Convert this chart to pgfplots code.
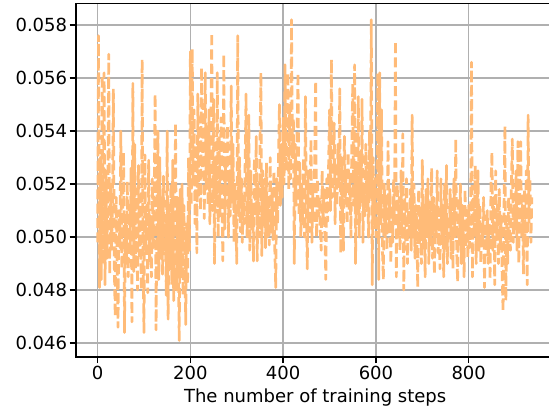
\documentclass[border=0pt]{standalone}
\usepackage{fontspec}
\setmainfont{DejaVu Sans}
\usepackage{pgfplots}
\pgfplotsset{compat=1.18}
\definecolor{lineorange}{HTML}{FFBB78}
\definecolor{gridgray}{HTML}{B0B0B0}

\begin{document}
\begin{tikzpicture}
\begin{axis}[
  scale only axis,
  width=265.7pt, height=196.1pt,
  xmin=-46.9, xmax=984.9,
  ymin=0.04548, ymax=0.05881,
  xtick={0,200,400,600,800},
  ytick={0.046,0.048,0.050,0.052,0.054,0.056,0.058},
  scaled y ticks=false,
  yticklabel style={/pgf/number format/fixed, /pgf/number format/fixed zerofill, /pgf/number format/precision=3, xshift=2.2pt},
  xticklabel style={yshift=1.7pt},
  /pgf/number format/assume math mode=true,
  tick align=outside, tick pos=left,
  major tick length=3.5pt,
  every tick/.style={black, line width=0.8pt},
  axis line style={black, line width=0.8pt},
  grid=major,
  major grid style={gridgray, line width=0.8pt},
  xlabel={The number of training steps},
  xlabel style={yshift=2.3pt},
]
% loss per training step (every 2nd step)
\addplot[lineorange, line width=1.5pt, line join=round, dash pattern=on 5.55pt off 2.4pt] coordinates {
(0,0.0498) (2,0.0576) (4,0.0481) (6,0.0530) (8,0.0484) (10,0.0561) (12,0.0490) (14,0.0562) (16,0.0482) (18,0.0525)
(20,0.0492) (22,0.0518) (24,0.0569) (26,0.0486) (28,0.0520) (30,0.0495) (32,0.0512) (34,0.0556) (36,0.0489) (38,0.0470)
(40,0.0515) (42,0.0492) (44,0.0466) (46,0.0510) (48,0.0496) (50,0.0540) (52,0.0488) (54,0.0505) (56,0.0532) (58,0.0464)
(60,0.0508) (62,0.0490) (64,0.0521) (66,0.0485) (68,0.0512) (70,0.0494) (72,0.0526) (74,0.0468) (76,0.0558) (78,0.0487)
(80,0.0535) (82,0.0488) (84,0.0518) (86,0.0480) (88,0.0527) (90,0.0493) (92,0.0515) (94,0.0480) (96,0.0567) (98,0.0490)
(100,0.0464) (102,0.0531) (104,0.0495) (106,0.0512) (108,0.0479) (110,0.0529) (112,0.0490) (114,0.0508) (116,0.0485) (118,0.0522)
(120,0.0496) (122,0.0517) (124,0.0554) (126,0.0465) (128,0.0510) (130,0.0540) (132,0.0484) (134,0.0530) (136,0.0492) (138,0.0515)
(140,0.0486) (142,0.0523) (144,0.0494) (146,0.0508) (148,0.0478) (150,0.0540) (152,0.0469) (154,0.0512) (156,0.0488) (158,0.0520)
(160,0.0482) (162,0.0529) (164,0.0476) (166,0.0505) (168,0.0543) (170,0.0480) (172,0.0515) (174,0.0490) (176,0.0461) (178,0.0518)
(180,0.0485) (182,0.0520) (184,0.0478) (186,0.0512) (188,0.0490) (190,0.0467) (192,0.0505) (194,0.0482) (196,0.0530) (198,0.0495)
(200,0.0570) (202,0.0512) (204,0.0571) (206,0.0520) (208,0.0548) (210,0.0505) (212,0.0535) (214,0.0494) (216,0.0554) (218,0.0515)
(220,0.0545) (222,0.0510) (224,0.0564) (226,0.0523) (228,0.0550) (230,0.0507) (232,0.0562) (234,0.0518) (236,0.0540) (238,0.0512)
(240,0.0548) (242,0.0505) (244,0.0536) (246,0.0577) (248,0.0510) (250,0.0552) (252,0.0490) (254,0.0530) (256,0.0512) (258,0.0562)
(260,0.0500) (262,0.0538) (264,0.0508) (266,0.0545) (268,0.0515) (270,0.0491) (272,0.0569) (274,0.0503) (276,0.0530) (278,0.0512)
(280,0.0542) (282,0.0500) (284,0.0525) (286,0.0508) (288,0.0557) (290,0.0512) (292,0.0535) (294,0.0498) (296,0.0520) (298,0.0505)
(300,0.0490) (302,0.0576) (304,0.0508) (306,0.0530) (308,0.0502) (310,0.0522) (312,0.0498) (314,0.0515) (316,0.0505) (318,0.0528)
(320,0.0554) (322,0.0500) (324,0.0518) (326,0.0546) (328,0.0495) (330,0.0525) (332,0.0503) (334,0.0512) (336,0.0491) (338,0.0530)
(340,0.0508) (342,0.0538) (344,0.0491) (346,0.0520) (348,0.0500) (350,0.0535) (352,0.0562) (354,0.0493) (356,0.0525) (358,0.0505)
(360,0.0522) (362,0.0496) (364,0.0528) (366,0.0500) (368,0.0515) (370,0.0497) (372,0.0530) (374,0.0502) (376,0.0518) (378,0.0499)
(380,0.0525) (382,0.0495) (384,0.0481) (386,0.0522) (388,0.0505) (390,0.0530) (392,0.0550) (394,0.0512) (396,0.0535) (398,0.0515)
(400,0.0545) (402,0.0520) (404,0.0565) (406,0.0525) (408,0.0540) (410,0.0562) (412,0.0518) (414,0.0548) (416,0.0522) (418,0.0582)
(420,0.0530) (422,0.0545) (424,0.0490) (426,0.0535) (428,0.0512) (430,0.0540) (432,0.0562) (434,0.0508) (436,0.0528) (438,0.0500)
(440,0.0520) (442,0.0505) (444,0.0530) (446,0.0500) (448,0.0553) (450,0.0510) (452,0.0488) (454,0.0525) (456,0.0502) (458,0.0518)
(460,0.0537) (462,0.0498) (464,0.0520) (466,0.0505) (468,0.0530) (470,0.0559) (472,0.0500) (474,0.0522) (476,0.0508) (478,0.0515)
(480,0.0502) (482,0.0495) (484,0.0525) (486,0.0505) (488,0.0518) (490,0.0500) (492,0.0484) (494,0.0522) (496,0.0506) (498,0.0528)
(500,0.0548) (502,0.0510) (504,0.0567) (506,0.0515) (508,0.0530) (510,0.0543) (512,0.0505) (514,0.0528) (516,0.0512) (518,0.0535)
(520,0.0520) (522,0.0556) (524,0.0494) (526,0.0530) (528,0.0510) (530,0.0495) (532,0.0538) (534,0.0515) (536,0.0525) (538,0.0505)
(540,0.0532) (542,0.0510) (544,0.0522) (546,0.0500) (548,0.0535) (550,0.0558) (552,0.0512) (554,0.0565) (556,0.0490) (558,0.0525)
(560,0.0505) (562,0.0553) (564,0.0500) (566,0.0530) (568,0.0515) (570,0.0552) (572,0.0498) (574,0.0520) (576,0.0508) (578,0.0535)
(580,0.0510) (582,0.0528) (584,0.0500) (586,0.0540) (588,0.0515) (590,0.0582) (592,0.0482) (594,0.0530) (596,0.0505) (598,0.0522)
(600,0.0500) (602,0.0518) (604,0.0562) (606,0.0484) (608,0.0562) (610,0.0505) (612,0.0548) (614,0.0495) (616,0.0484) (618,0.0520)
(620,0.0500) (622,0.0515) (624,0.0495) (626,0.0536) (628,0.0502) (630,0.0518) (632,0.0490) (634,0.0512) (636,0.0498) (638,0.0522)
(640,0.0505) (642,0.0574) (644,0.0485) (646,0.0520) (648,0.0500) (650,0.0515) (652,0.0495) (654,0.0525) (656,0.0500) (658,0.0539)
(660,0.0480) (662,0.0515) (664,0.0498) (666,0.0522) (668,0.0490) (670,0.0510) (672,0.0502) (674,0.0518) (676,0.0495) (678,0.0546)
(680,0.0500) (682,0.0520) (684,0.0492) (686,0.0512) (688,0.0505) (690,0.0481) (692,0.0518) (694,0.0498) (696,0.0510) (698,0.0490)
(700,0.0529) (702,0.0495) (704,0.0512) (706,0.0485) (708,0.0518) (710,0.0500) (712,0.0522) (714,0.0490) (716,0.0510) (718,0.0497)
(720,0.0526) (722,0.0492) (724,0.0515) (726,0.0486) (728,0.0512) (730,0.0500) (732,0.0525) (734,0.0494) (736,0.0510) (738,0.0488)
(740,0.0522) (742,0.0498) (744,0.0512) (746,0.0485) (748,0.0520) (750,0.0495) (752,0.0527) (754,0.0490) (756,0.0508) (758,0.0500)
(760,0.0518) (762,0.0492) (764,0.0515) (766,0.0488) (768,0.0522) (770,0.0500) (772,0.0537) (774,0.0495) (776,0.0483) (778,0.0515)
(780,0.0498) (782,0.0520) (784,0.0490) (786,0.0512) (788,0.0502) (790,0.0485) (792,0.0518) (794,0.0496) (796,0.0510) (798,0.0492)
(800,0.0512) (802,0.0496) (804,0.0505) (806,0.0566) (808,0.0485) (810,0.0515) (812,0.0500) (814,0.0527) (816,0.0490) (818,0.0510)
(820,0.0525) (822,0.0495) (824,0.0512) (826,0.0490) (828,0.0505) (830,0.0498) (832,0.0515) (834,0.0481) (836,0.0508) (838,0.0495)
(840,0.0510) (842,0.0490) (844,0.0505) (846,0.0484) (848,0.0520) (850,0.0532) (852,0.0495) (854,0.0515) (856,0.0482) (858,0.0525)
(860,0.0500) (862,0.0512) (864,0.0490) (866,0.0518) (868,0.0495) (870,0.0508) (872,0.0486) (874,0.0472) (876,0.0510) (878,0.0542)
(880,0.0476) (882,0.0505) (884,0.0490) (886,0.0515) (888,0.0500) (890,0.0495) (892,0.0520) (894,0.0537) (896,0.0498) (898,0.0512)
(900,0.0502) (902,0.0525) (904,0.0495) (906,0.0536) (908,0.0490) (910,0.0520) (912,0.0536) (914,0.0500) (916,0.0512) (918,0.0486)
(920,0.0518) (922,0.0496) (924,0.0525) (926,0.0482) (928,0.0546) (930,0.0505) (932,0.0522) (934,0.0498) (936,0.0515)
};
\end{axis}
\path (current axis.south west) ++(-42.1pt,-28.6pt) coordinate (bbsw);
\path (current axis.north east) ++(-3.06pt,2pt) coordinate (bbne);
\pgfresetboundingbox
\useasboundingbox (bbsw) rectangle (bbne);
\end{tikzpicture}
\end{document}
